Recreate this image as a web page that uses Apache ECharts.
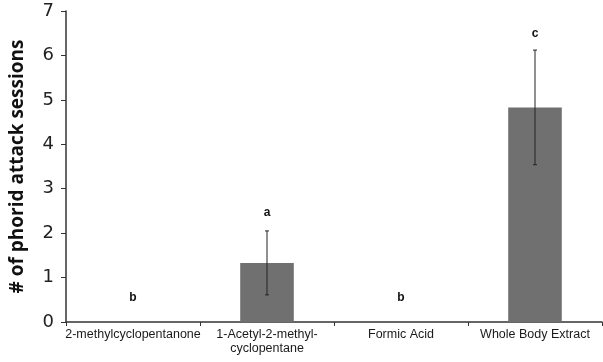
<!DOCTYPE html>
<html>
<head>
<meta charset="utf-8">
<script src="https://cdn.jsdelivr.net/npm/echarts@6/dist/echarts.min.js"></script>
<style>
html,body{margin:0;padding:0;background:#fff;}
#chart{width:603px;height:362px;}
</style>
</head>
<body>
<div id="chart"></div>
<script>
// compounds tested
var categories = ['2-methylcyclopentanone', '1-Acetyl-2-methyl-\ncyclopentane', 'Formic Acid', 'Whole Body Extract'];
// mean attack sessions
var means = [0, 1.33, 0, 4.83];
// error (+/-)
var errs = [0, 0.72, 0, 1.29];
// significance letters and where they sit
var letters = ['b', 'a', 'b', 'c'];
var letterPos = [0.55, 2.45, 0.55, 6.48];
var yTicks = [0, 1, 2, 3, 4, 5, 6, 7];

var errData = [];
var letterData = [];
for (var i = 0; i < categories.length; i++) {
	errData.push([i, means[i] - errs[i], means[i] + errs[i]]);
	letterData.push([i, letterPos[i], letters[i]]);
}

var myChart = echarts.init(document.getElementById('chart'));
var option = {
	animation: false,
	grid: {left: 66, right: 1, top: 11, bottom: 40},
	xAxis: {
		type: 'category',
		data: categories,
		axisLine: {lineStyle: {color: '#333', width: 1.5}},
		axisTick: {show: true, length: 4, lineStyle: {color: '#333'}},
		axisLabel: {
			color: '#1a1a1a', fontSize: 12.5, fontFamily: 'Liberation Sans',
			margin: 6, lineHeight: 14, interval: 0
		}
	},
	yAxis: {
		type: 'value',
		min: yTicks[0], max: yTicks[yTicks.length - 1], interval: 1,
		name: '# of phorid attack sessions',
		nameLocation: 'middle',
		nameGap: 39,
		nameTextStyle: {color: '#111', fontSize: 19, fontWeight: 'bold', fontFamily: 'Open Sans'},
		axisLine: {show: true, lineStyle: {color: '#333', width: 1.5}},
		axisTick: {show: true, inside: false, length: 5, lineStyle: {color: '#333'}},
		splitLine: {show: false},
		axisLabel: {color: '#222', fontSize: 18, fontFamily: 'DejaVu Sans', margin: 12}
	},
	series: [
		{
			type: 'bar',
			data: means,
			barWidth: '40%',
			itemStyle: {color: '#707070'}
		},
		{
			type: 'custom',
			data: errData,
			z: 5,
			renderItem: function (params, api) {
				var lo = api.coord([api.value(0), api.value(1)]);
				var hi = api.coord([api.value(0), api.value(2)]);
				if (Math.abs(hi[1] - lo[1]) < 0.5) return;
				var w = 2;
				var st = {stroke: '#222', lineWidth: 1};
				return {
					type: 'group',
					children: [
						{type: 'line', shape: {x1: lo[0], y1: lo[1], x2: hi[0], y2: hi[1]}, style: st},
						{type: 'line', shape: {x1: lo[0] - w, y1: lo[1], x2: lo[0] + w, y2: lo[1]}, style: st},
						{type: 'line', shape: {x1: hi[0] - w, y1: hi[1], x2: hi[0] + w, y2: hi[1]}, style: st}
					]
				};
			}
		},
		{
			type: 'custom',
			data: letterData,
			z: 6,
			renderItem: function (params, api) {
				var p = api.coord([api.value(0), api.value(1)]);
				return {
					type: 'text',
					x: p[0], y: p[1],
					style: {
						text: letters[params.dataIndex],
						fill: '#111',
						font: 'bold 12px "Liberation Sans"',
						align: 'center',
						verticalAlign: 'middle'
					}
				};
			}
		}
	]
};
myChart.setOption(option);
</script>
</body>
</html>
